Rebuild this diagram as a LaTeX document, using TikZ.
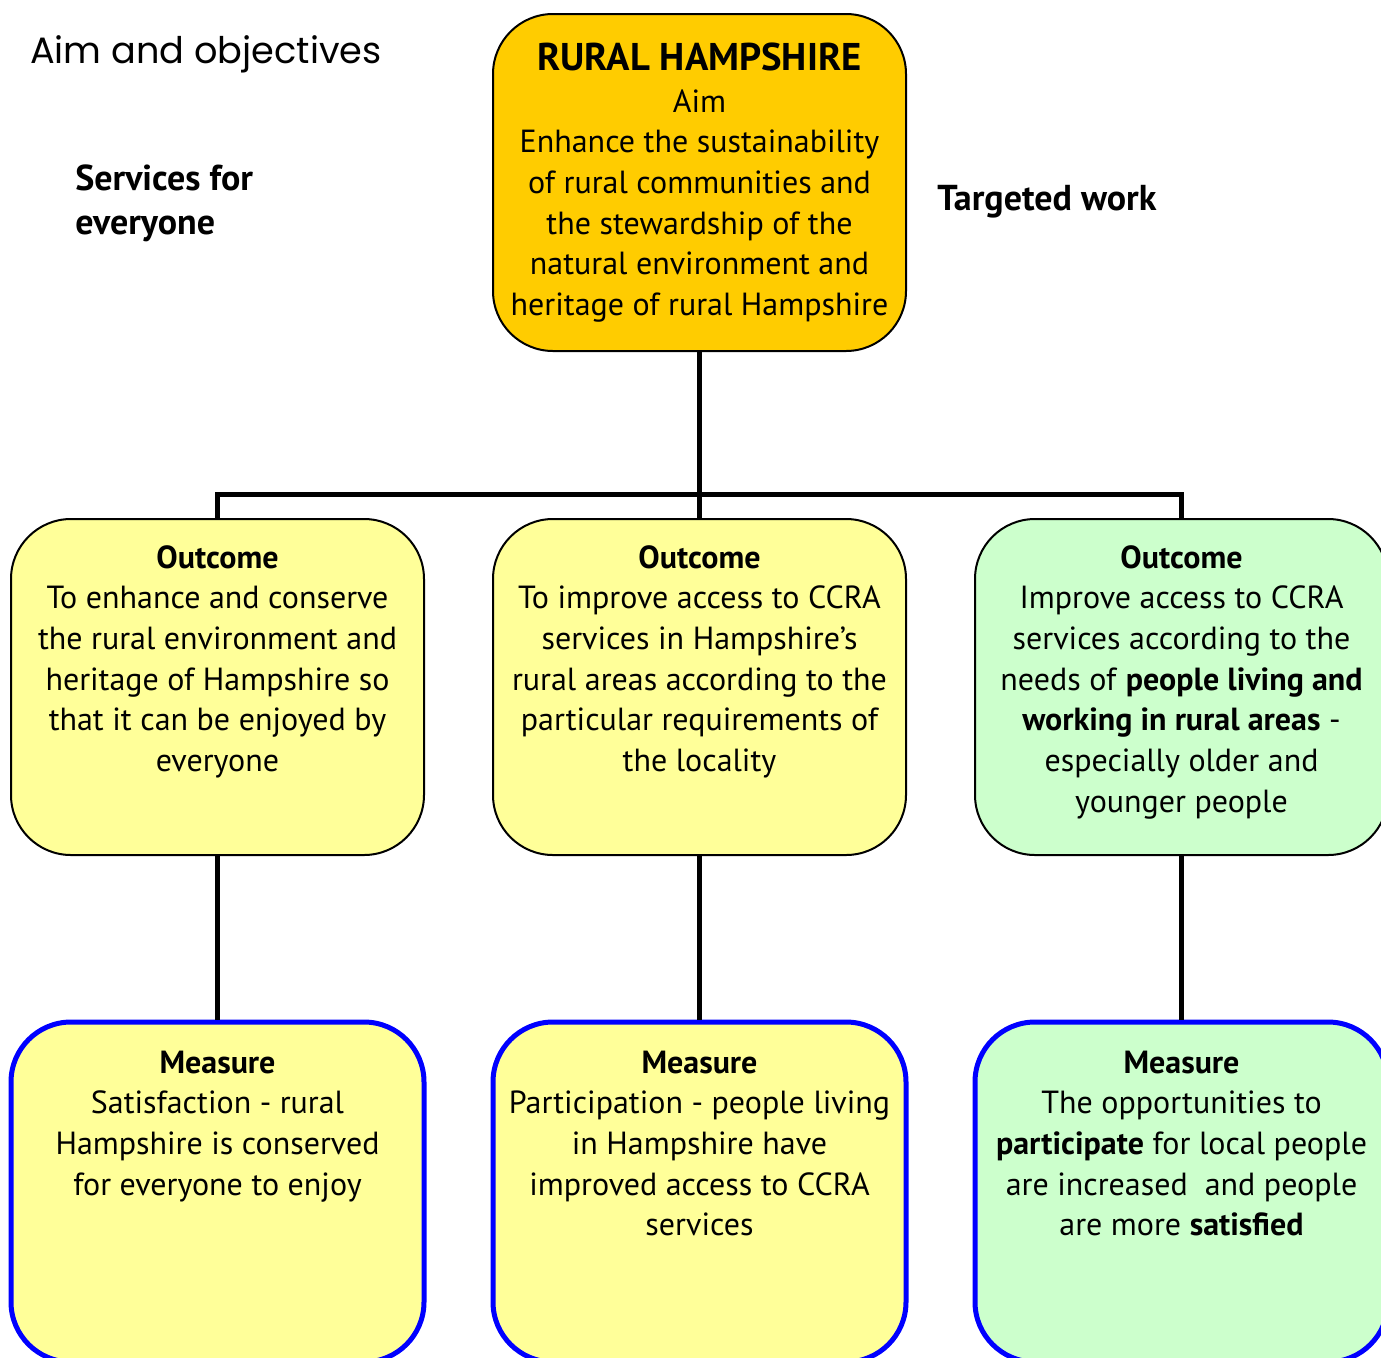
\documentclass[tikz,border=0pt]{standalone}
\usepackage{fontspec}
\setmainfont{PT Sans}
\newfontfamily\geofont{Poppins}
\definecolor{gold}{HTML}{FFCC00}
\definecolor{paleyellow}{HTML}{FFFF99}
\definecolor{palegreen}{HTML}{CCFFCC}
\definecolor{measureblue}{HTML}{0000FF}
\tikzset{
  aimbox/.style={draw=black, line width=1.5pt, fill=gold, rounded corners=45pt, minimum width=309.75pt, minimum height=252.75pt, inner sep=0pt},
  outbox/.style={draw=black, line width=1.5pt, rounded corners=45pt, minimum width=309.75pt, minimum height=252pt, inner sep=0pt},
  measbox/.style={draw=measureblue, line width=3.75pt, rounded corners=45pt, minimum width=309.75pt, minimum height=255pt, inner sep=0pt},
  conn/.style={draw=black, line width=3.75pt},
  boxtext/.style={anchor=north, inner sep=0pt, align=center, font=\fontsize{24}{30.5}\selectfont},
  sidetext/.style={anchor=base west, inner sep=0pt, align=left, font=\fontsize{27}{33}\selectfont\bfseries},
}
\begin{document}
\begin{tikzpicture}[x=0.75pt, y=-0.75pt]
\useasboundingbox (0,0) rectangle (1381,1357);
\begin{scope}
\clip (0,0) rectangle (1381,1357);
% boxes
\node[aimbox] (aim) at (699.5,182.5) {};
\node[outbox, fill=paleyellow] (out1) at (217.5,687) {};
\node[outbox, fill=paleyellow] (out2) at (699.5,687) {};
\node[outbox, fill=palegreen] (out3) at (1181.5,687) {};
\node[measbox, fill=paleyellow] (meas1) at (217.5,1192) {};
\node[measbox, fill=paleyellow] (meas2) at (699.5,1192) {};
\node[measbox, fill=palegreen] (meas3) at (1181.5,1192) {};
% connectors
\coordinate (bus) at (699.5,494);
\draw[conn] (aim.south) -- (out2.north);
\draw[conn] (out1.north) |- (bus) -| (out3.north);
\draw[conn] (out1.south) -- (meas1.north);
\draw[conn] (out2.south) -- (meas2.north);
\draw[conn] (out3.south) -- (meas3.north);
\end{scope}
% side texts
\node[anchor=base west, inner sep=0pt, font=\geofont\fontsize{27.5}{30}\selectfont] (title) at (30,63) {Aim and objectives};
\node[sidetext] (serv) at (75,234) {Services for\\everyone};
\node[sidetext] (targ) at (937,210) {Targeted work};
% aim text
\node[anchor=base, inner sep=0pt, font=\fontsize{29}{36}\selectfont\bfseries] (aimtitle) at (699.5,70) {RURAL HAMPSHIRE};
\node[boxtext] (aimtext) at (699.5,83.5) {\strut Aim\\Enhance the sustainability\\of rural communities and\\the stewardship of the\\natural environment and\\heritage of rural Hampshire};
% outcome texts
\node[boxtext] (out1text) at (217.5,539.5) {\strut\textbf{Outcome}\\To enhance and conserve\\the rural environment and\\heritage of Hampshire so\\that it can be enjoyed by\\everyone};
\node[boxtext] (out2text) at (699.5,539.5) {\strut\textbf{Outcome}\\To improve access to CCRA\\services in Hampshire’s\\rural areas according to the\\particular requirements of\\the locality};
\node[boxtext] (out3text) at (1181.5,539.5) {\strut\textbf{Outcome}\\Improve access to CCRA\\services according to the\\needs of \textbf{people living and}\\\textbf{working in rural areas} -\\especially older and\\younger people};
% measure texts
\node[boxtext] (meas1text) at (217.5,1044.5) {\strut\textbf{Measure}\\Satisfaction - rural\\Hampshire is conserved\\for everyone to enjoy};
\node[boxtext] (meas2text) at (699.5,1044.5) {\strut\textbf{Measure}\\Participation - people living\\in Hampshire have\\improved access to CCRA\\services};
\node[boxtext] (meas3text) at (1181.5,1044.5) {\strut\textbf{Measure}\\The opportunities to\\\textbf{participate} for local people\\are increased\ \ and people\\are more \textbf{satisfied}};
\end{tikzpicture}
\end{document}
